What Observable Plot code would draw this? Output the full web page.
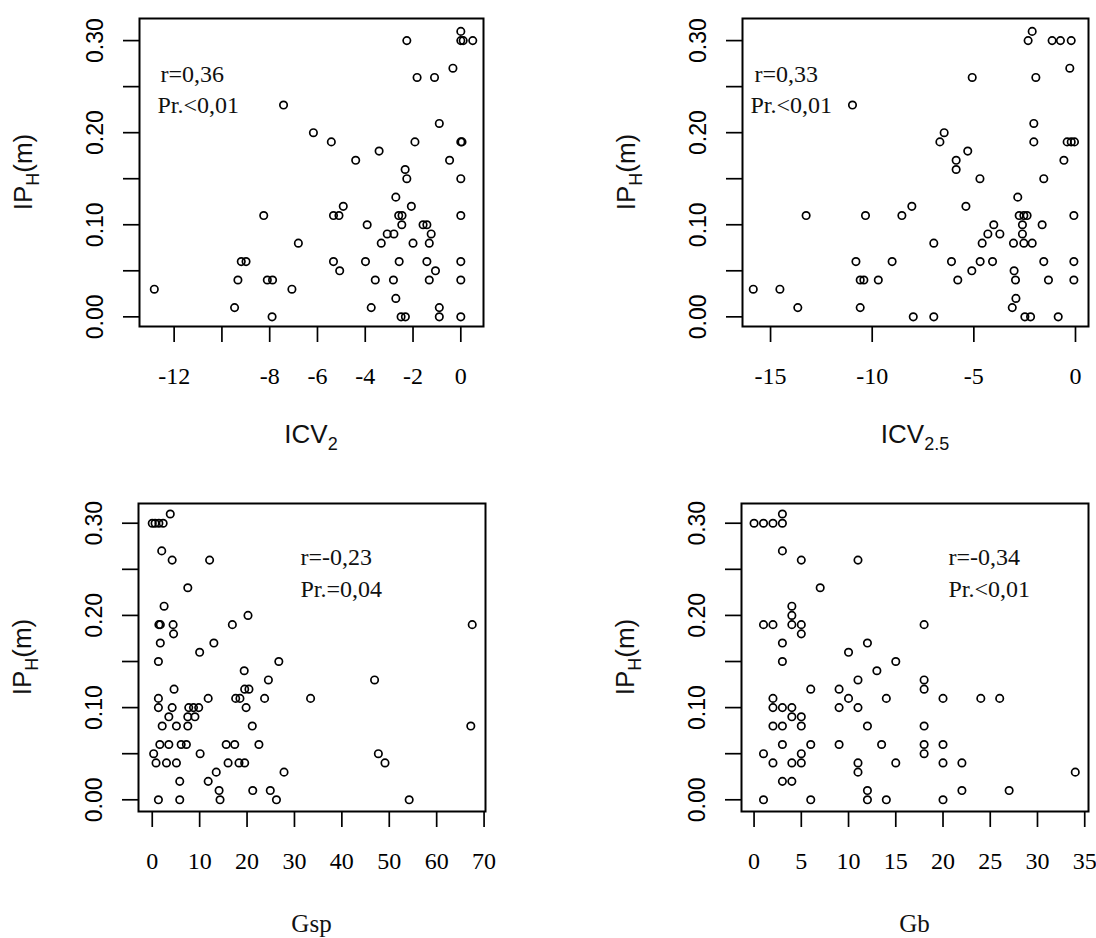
<!DOCTYPE html>
<html>
<head>
<meta charset="utf-8">
<script src="https://cdn.jsdelivr.net/npm/d3@7"></script>
<script src="https://cdn.jsdelivr.net/npm/@observablehq/plot@0.6"></script>
<style>
  html, body { margin: 0; padding: 0; background: #fff; color: #000; }
  #chart { position: relative; width: 1096px; height: 938px; overflow: hidden; }
  #chart svg { position: absolute; }
</style>
</head>
<body>
<div id="chart"></div>
<script>
// ---- Data ----
const icv2X = [0, 0, 0.1, 0.5, -2.26, -0.33, -1.83, -1.1, -7.42, -0.9, -6.17, -5.42, -1.92, 0, 0.05, -3.42, -4.4, -0.47, -2.33, -2.26, 0,
  -2.72, -4.92, -2.07, -8.25, -5.33, -5.1, -2.6, -2.46, 0, -3.92, -2.47, -1.58, -1.42, -3.08, -2.8, -1.24, -6.8, -3.33, -2.0, -1.32,
  -9.19, -8.99, -5.33, -3.99, -2.58, -1.42, 0, -5.07, -1.06, -9.33, -8.1, -7.88, -3.58, -2.82, -1.32, 0, -12.83, -7.07, -2.72,
  -9.47, -3.75, -0.9, -7.9, -2.5, -2.32, -0.9, 0];
const icv2Y = [0.31, 0.30, 0.30, 0.30, 0.30, 0.27, 0.26, 0.26, 0.23, 0.21, 0.20, 0.19, 0.19, 0.19, 0.19, 0.18, 0.17, 0.17, 0.16, 0.15, 0.15,
  0.13, 0.12, 0.12, 0.11, 0.11, 0.11, 0.11, 0.11, 0.11, 0.10, 0.10, 0.10, 0.10, 0.09, 0.09, 0.09, 0.08, 0.08, 0.08, 0.08,
  0.06, 0.06, 0.06, 0.06, 0.06, 0.06, 0.06, 0.05, 0.05, 0.04, 0.04, 0.04, 0.04, 0.04, 0.04, 0.04, 0.03, 0.03, 0.02,
  0.01, 0.01, 0.01, 0.00, 0.00, 0.00, 0.00, 0.00];

const icv25X = [-2.13, -2.33, -1.15, -0.74, -0.21, -0.28, -5.08, -1.95, -10.97, -2.05, -6.46, -6.67, -2.05, -0.41, -0.21, -0.05,
  -5.3, -5.87, -0.57, -5.87, -4.7, -1.56, -2.84, -8.05, -5.39, -13.25, -10.33, -8.54, -2.77, -2.54, -2.38, -0.08,
  -4.02, -2.61, -1.64, -4.31, -3.72, -2.61, -6.97, -4.59, -3.05, -2.54, -2.13, -10.8, -9.02, -6.1, -4.69, -4.08, -1.56, -0.08,
  -5.1, -3.02, -10.59, -10.41, -9.7, -5.79, -2.95, -1.33, -0.08, -15.85, -14.54, -2.93, -13.66, -10.59, -3.11,
  -7.98, -6.97, -2.49, -2.21, -0.85];
const icv25Y = [0.31, 0.30, 0.30, 0.30, 0.30, 0.27, 0.26, 0.26, 0.23, 0.21, 0.20, 0.19, 0.19, 0.19, 0.19, 0.19,
  0.18, 0.17, 0.17, 0.16, 0.15, 0.15, 0.13, 0.12, 0.12, 0.11, 0.11, 0.11, 0.11, 0.11, 0.11, 0.11,
  0.10, 0.10, 0.10, 0.09, 0.09, 0.09, 0.08, 0.08, 0.08, 0.08, 0.08, 0.06, 0.06, 0.06, 0.06, 0.06, 0.06, 0.06,
  0.05, 0.05, 0.04, 0.04, 0.04, 0.04, 0.04, 0.04, 0.04, 0.03, 0.03, 0.02, 0.01, 0.01, 0.01,
  0.00, 0.00, 0.00, 0.00, 0.00];

const gspX = [3.8, 0, 0.6, 1.4, 2.3, 2.0, 4.2, 12.1, 7.5, 2.5, 20.2, 1.4, 1.7, 4.4, 4.5, 16.9, 67.5, 1.7, 13.0, 10.0, 1.3, 26.7,
  19.4, 24.5, 46.9, 4.6, 19.5, 20.4, 1.3, 11.8, 17.6, 18.5, 23.7, 33.4, 1.3, 4.2, 7.7, 8.7, 9.8, 19.8, 3.5, 7.5, 9.0,
  2.1, 5.1, 7.5, 21.1, 67.2, 1.6, 3.5, 6.1, 7.2, 15.6, 17.4, 22.5, 0.3, 10.1, 47.7, 0.8, 3.0, 5.1, 16.0, 18.3, 19.5, 49.1,
  13.5, 27.8, 5.8, 11.8, 14.1, 21.2, 24.9, 1.3, 5.8, 14.3, 26.2, 54.2];
const gspY = [0.31, 0.30, 0.30, 0.30, 0.30, 0.27, 0.26, 0.26, 0.23, 0.21, 0.20, 0.19, 0.19, 0.19, 0.18, 0.19, 0.19, 0.17, 0.17, 0.16, 0.15, 0.15,
  0.14, 0.13, 0.13, 0.12, 0.12, 0.12, 0.11, 0.11, 0.11, 0.11, 0.11, 0.11, 0.10, 0.10, 0.10, 0.10, 0.10, 0.10, 0.09, 0.09, 0.09,
  0.08, 0.08, 0.08, 0.08, 0.08, 0.06, 0.06, 0.06, 0.06, 0.06, 0.06, 0.06, 0.05, 0.05, 0.05, 0.04, 0.04, 0.04, 0.04, 0.04, 0.04, 0.04,
  0.03, 0.03, 0.02, 0.02, 0.01, 0.01, 0.01, 0.00, 0.00, 0.00, 0.00, 0.00];

const gbX = [3, 0, 1, 2, 3, 3, 5, 11, 7, 4, 4, 1, 2, 4, 5, 5, 18, 3, 12, 10, 3, 15, 13, 11, 18, 6, 9, 18,
  2, 10, 14, 20, 24, 26, 2, 3, 4, 9, 11, 4, 5, 2, 3, 5, 12, 18, 3, 6, 9, 13.5, 18, 20, 18, 1, 5,
  2, 4, 5, 11, 15, 20, 22, 11, 34, 3, 4, 12, 22, 27, 1, 6, 12, 14, 20];
const gbY = [0.31, 0.30, 0.30, 0.30, 0.30, 0.27, 0.26, 0.26, 0.23, 0.21, 0.20, 0.19, 0.19, 0.19, 0.19, 0.18, 0.19, 0.17, 0.17, 0.16, 0.15, 0.15, 0.14, 0.13, 0.13, 0.12, 0.12, 0.12,
  0.11, 0.11, 0.11, 0.11, 0.11, 0.11, 0.10, 0.10, 0.10, 0.10, 0.10, 0.09, 0.09, 0.08, 0.08, 0.08, 0.08, 0.08, 0.06, 0.06, 0.06, 0.06, 0.06, 0.06, 0.05, 0.05, 0.05,
  0.04, 0.04, 0.04, 0.04, 0.04, 0.04, 0.04, 0.03, 0.03, 0.02, 0.02, 0.01, 0.01, 0.01, 0.00, 0.00, 0.00, 0.00, 0.00];

// ---- Ticks and labels ----
const yTicks = [0, 0.05, 0.10, 0.15, 0.20, 0.25, 0.30];
const icv2Ticks = [-12, -10, -8, -6, -4, -2, 0];
const icv2Hidden = [-10];
const icv25Ticks = [-15, -10, -5, 0];
const gspTicks = [0, 10, 20, 30, 40, 50, 60, 70];
const gbTicks = [0, 5, 10, 15, 20, 25, 30, 35];
const rTexts = ["r=0,36", "r=0,33", "r=-0,23", "r=-0,34"];
const prTexts = ["Pr.<0,01", "Pr.<0,01", "Pr.=0,04", "Pr.<0,01"];
const yTitle = ["IP", "H", "(m)"];
const xTitles = [["ICV", "2"], ["ICV", "2.5"], ["Gsp", ""], ["Gb", ""]];

// ---- Layout ----
const W = 548, H = 469;
const panels = [
  {xs: icv2X, ys: icv2Y, xDomain: [-13.45, 0.95], yDomain: [-0.0105, 0.324], ticks: icv2Ticks, hidden: icv2Hidden,
   ml: 139, mr: 65, mt: 18, mb: 143, left: 0, top: 0, rdx: 21, prdx: 18, rdy: 63, prdy: 94, titleFont: "Liberation Sans", titleDy: 117},
  {xs: icv25X, ys: icv25Y, xDomain: [-16.38, 0.64], yDomain: [-0.0105, 0.324], ticks: icv25Ticks, hidden: [],
   ml: 194, mr: 8, mt: 18, mb: 143, left: 548, top: 0, rdx: 12, prdx: 8, rdy: 63, prdy: 94, titleFont: "Liberation Sans", titleDy: 117},
  {xs: gspX, ys: gspY, xDomain: [-2.9, 70.3], yDomain: [-0.0127, 0.3214], ticks: gspTicks, hidden: [],
   ml: 138, mr: 63, mt: 34, mb: 127, left: 0, top: 469, rdx: 162, prdx: 162, rdy: 61, prdy: 93, titleFont: "Liberation Serif", titleDy: 121},
  {xs: gbX, ys: gbY, xDomain: [-1.33, 35.4], yDomain: [-0.0127, 0.3214], ticks: gbTicks, hidden: [],
   ml: 193, mr: 8, mt: 34, mb: 127, left: 548, top: 469, rdx: 207, prdx: 207, rdy: 61, prdy: 93, titleFont: "Liberation Serif", titleDy: 121}
];

const chart = document.getElementById("chart");
const serif = "'Liberation Serif', 'Times New Roman', serif";
const sans = "'Liberation Sans', Arial, sans-serif";

panels.forEach((p, i) => {
  const data = p.xs.map((x, j) => ({x, y: p.ys[j]}));
  const svgEl = Plot.plot({
    width: W, height: H,
    marginLeft: p.ml, marginRight: p.mr, marginTop: p.mt, marginBottom: p.mb,
    x: {domain: p.xDomain},
    y: {domain: p.yDomain},
    style: {background: "transparent", color: "#000", overflow: "visible"},
    marks: [
      Plot.axisX({ticks: p.ticks, tickFormat: d => p.hidden.includes(d) ? "" : String(d),
        tickSize: 16, tickPadding: 24, fontSize: 24, fontFamily: serif, label: null, strokeWidth: 1.7}),
      Plot.axisY({ticks: yTicks, tickFormat: d => (Math.round(d * 100) % 10 === 0 ? d.toFixed(2) : ""),
        tickRotate: -90, tickSize: 16, tickPadding: 21, fontSize: 23, fontFamily: sans, label: null, strokeWidth: 1.7}),
      Plot.frame({stroke: "#000", strokeWidth: 2}),
      Plot.dot(data, {x: "x", y: "y", r: 3.7, stroke: "#000", strokeWidth: 1.7, fill: "none"}),
      Plot.text([rTexts[i]], {text: d => d, frameAnchor: "top-left", dx: p.rdx, dy: p.rdy,
        textAnchor: "start", lineAnchor: "bottom", fontSize: 24, fontFamily: serif, fill: "#111"}),
      Plot.text([prTexts[i]], {text: d => d, frameAnchor: "top-left", dx: p.prdx, dy: p.prdy,
        textAnchor: "start", lineAnchor: "bottom", fontSize: 24, fontFamily: serif, fill: "#111"})
    ]
  });
  svgEl.style.left = p.left + "px";
  svgEl.style.top = p.top + "px";
  const svg = d3.select(svgEl);
  const fw = W - p.ml - p.mr, fh = H - p.mt - p.mb;
  // y-axis title with subscript
  const yt = svg.append("text")
    .attr("transform", `translate(${p.ml - 107},${p.mt + fh / 2}) rotate(-90)`)
    .attr("text-anchor", "middle").attr("font-family", sans).attr("font-size", 26).attr("fill", "#111");
  yt.append("tspan").text(yTitle[0]);
  yt.append("tspan").attr("font-size", 18).attr("dy", 7).text(yTitle[1]);
  yt.append("tspan").attr("dy", -7).text(yTitle[2]);
  // x-axis title with optional subscript
  const xt = svg.append("text")
    .attr("x", p.ml + fw / 2).attr("y", p.mt + fh + p.titleDy)
    .attr("text-anchor", "middle").attr("font-family", p.titleFont === "Liberation Serif" ? serif : sans)
    .attr("font-size", p.titleFont === "Liberation Serif" ? 25 : 26).attr("fill", "#111");
  xt.append("tspan").text(xTitles[i][0]);
  if (xTitles[i][1]) xt.append("tspan").attr("font-size", 18).attr("dy", 7).text(xTitles[i][1]);
  chart.appendChild(svgEl);
});
</script>
</body>
</html>
